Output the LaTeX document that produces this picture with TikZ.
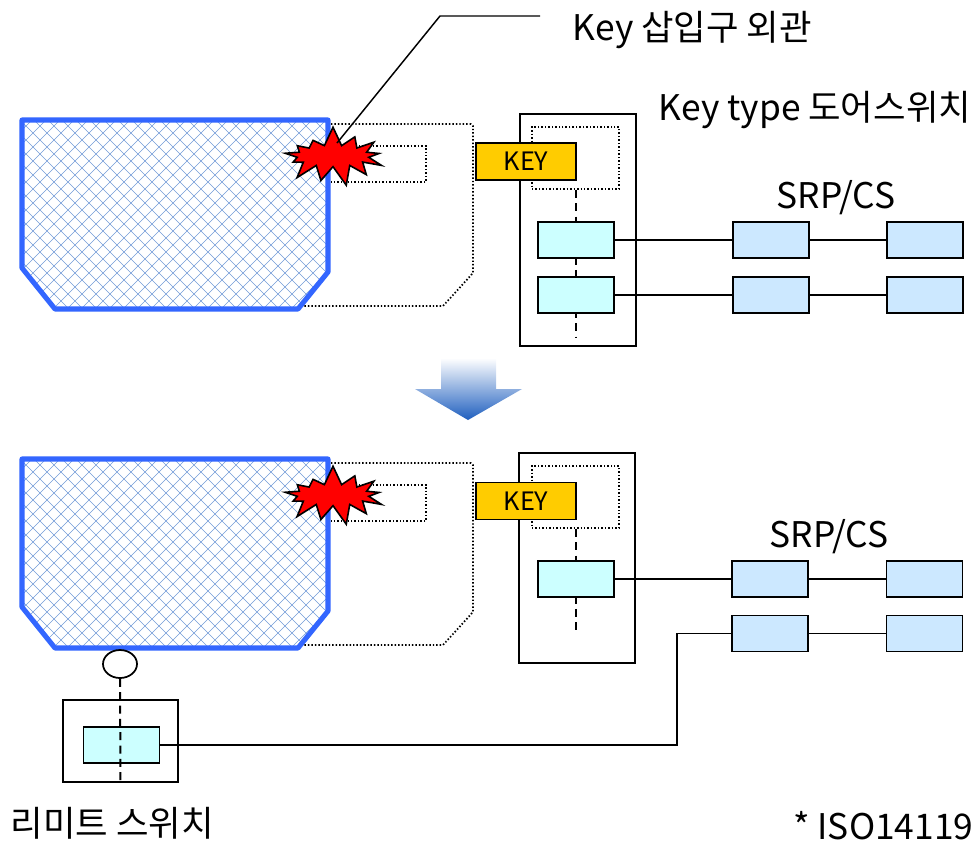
\documentclass[tikz,border=0pt]{standalone}
\usepackage{fontspec}
\setmainfont{Noto Sans CJK KR}
\usetikzlibrary{shapes.symbols,shapes.geometric}
\definecolor{guardblue}{RGB}{51,102,255}
\definecolor{hatchblue}{RGB}{115,155,215}
\definecolor{keygold}{RGB}{255,204,0}
\definecolor{contactcyan}{RGB}{204,255,255}
\definecolor{srpblue}{RGB}{204,232,255}
\definecolor{arrowblue}{RGB}{31,95,191}
\begin{document}
\begin{tikzpicture}
  [x=0.75pt,y=-0.75pt,every node/.style={inner sep=0pt},line width=1.1pt]
  \tikzstyle{bigtext} = [font=\fontsize{26.5pt}{30pt}\selectfont]
  \tikzstyle{contact} = [draw,line width=1.3pt,fill=contactcyan,minimum width=57pt,minimum height=27pt]
  \tikzstyle{srp} = [draw,line width=1.3pt,fill=srpblue,minimum width=57pt,minimum height=27pt]
  \tikzstyle{keybox} = [draw,line width=1.3pt,fill=keygold,minimum width=75pt,minimum height=27.75pt,font=\fontsize{19pt}{22pt}\selectfont]
  \tikzstyle{frame} = [line width=1.3pt,dash pattern=on 1.1pt off 1.5pt]
  \tikzstyle{shaft} = [line width=1.5pt,dash pattern=on 6pt off 4pt]
  \tikzstyle{burst} = [starburst,draw,line width=1.2pt,fill=red,starburst points=13,starburst point height=15pt,random starburst=7,minimum width=84pt,minimum height=46pt]
  \useasboundingbox (0,0) rectangle (980,843);
  % guard with mesh, its housing and the key slot
  \foreach \dy in {0,339} {
    \begin{scope}
      \clip (22,120+\dy) -- (328,120+\dy) -- (328,272+\dy) -- (298,309+\dy) -- (55,309+\dy) -- (22,268+\dy) -- cycle;
      \foreach \i in {-200,-186,...,340}
        \draw[hatchblue,line width=0.45pt] (\i,110+\dy) -- ++(210,210) (\i+200,110+\dy) -- ++(-210,210);
    \end{scope}
    \draw[guardblue,line width=3.8pt,line join=round] (22,120+\dy) -- (328,120+\dy) -- (328,272+\dy) -- (298,309+\dy) -- (55,309+\dy) -- (22,268+\dy) -- cycle;
    \draw[frame] (331,124+\dy) -- (471,124+\dy) -- (473,126+\dy) -- (473,273+\dy) -- (443,306+\dy) -- (303,306+\dy);
    \draw[frame] (331,146+\dy) -- (426,146+\dy) -- (426,182+\dy) -- (331,182+\dy);
  }
  \node (burst1) [burst] at (333,156) {};
  \node (burst2) [burst] at (333,495) {};
  \coordinate (lead) at (540,16);
  \coordinate (knee) at (440,16);
  \coordinate (tip1) at (337,143);
  \draw (lead) -- (knee) -- (tip1);
  \node (t1) [bigtext,anchor=west] at (572,30) {Key 삽입구 외관};
  \node (t2) [bigtext,anchor=west] at (658,110) {Key type 도어스위치};
  % key type door switch, before
  \node (ds1) [draw,line width=1.3pt,minimum width=87pt,minimum height=174pt] at (578,230) {};
  \node (kh1) [draw,frame,minimum width=65.25pt,minimum height=46.5pt] at (575.5,158) {};
  \node (key1) [keybox] at (526,161.5) {KEY};
  \draw[shaft] (kh1.south) -- ++(0,148);
  \node (c1) [contact] at (576,240) {};
  \node (c2) [contact] at (576,295) {};
  \node (s1a) [srp] at (771,240) {};
  \node (s1b) [srp] at (925,240) {};
  \node (s2a) [srp] at (771,295) {};
  \node (s2b) [srp] at (925,295) {};
  \node (srp1) [bigtext] at (836,198) {SRP/CS};
  \foreach \source /\dest in {c1/s1a,s1a/s1b,c2/s2a,s2a/s2b}
   \draw (\source) -- (\dest);
  % arrow
  \shade[top color=white,bottom color=arrowblue] (441,358) -- (496,358) -- (496,389) -- (522,389) -- (468,420) -- (415,389) -- (441,389) -- cycle;
  % key type door switch, after
  \node (ds2) [draw,line width=1.3pt,minimum width=87pt,minimum height=157.5pt] at (577,558) {};
  \node (kh2) [draw,frame,minimum width=65.25pt,minimum height=46.5pt] at (575.5,497) {};
  \node (key2) [keybox] at (526,501) {KEY};
  \draw[shaft] (kh2.south) -- ++(0,106);
  \node (c3) [contact] at (576,579) {};
  \node (s3a) [srp] at (770,579) {};
  \node (s3b) [srp] at (924.5,579) {};
  \node (s4a) [srp] at (770,633.5) {};
  \node (s4b) [srp] at (924.5,633.5) {};
  \node (srp2) [bigtext] at (829,537) {SRP/CS};
  \foreach \source /\dest in {c3/s3a,s3a/s3b,s4a/s4b}
   \draw (\source) -- (\dest);
  % limit switch
  \node (roll) [ellipse,draw,line width=1.3pt,fill=white,minimum width=25.5pt,minimum height=21pt] at (120,664) {};
  \node (ls) [draw,line width=1.3pt,minimum width=86.25pt,minimum height=61.5pt] at (120.5,741) {};
  \node (lc) [contact] at (121.5,745) {};
  \draw[shaft] (roll.south) -- (ls.south);
  \coordinate (bend) at (677,745);
  \draw (lc) -- (bend) |- (s4a);
  \node (t3) [bigtext,anchor=west] at (10,823) {리미트 스위치};
  \node (t4) [bigtext,anchor=east] at (974,826) {* ISO14119};
\end{tikzpicture}
\end{document}
